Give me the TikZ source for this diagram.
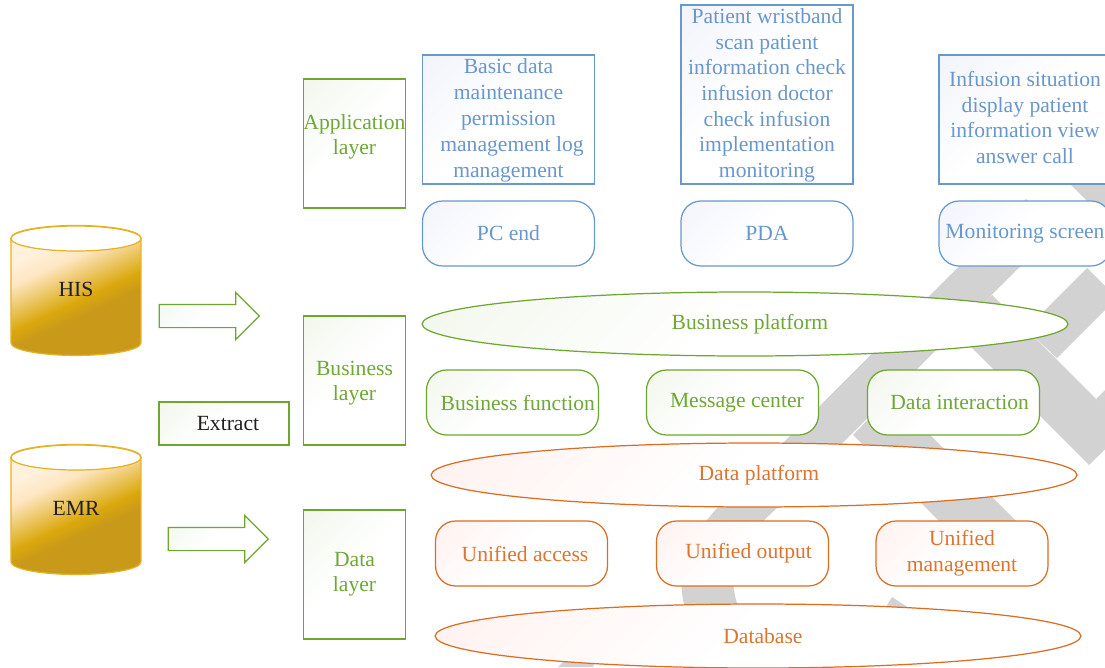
\documentclass[tikz,border=0pt]{standalone}
\usepackage{fontspec}
\setmainfont{Liberation Serif}
\usepackage{xcolor}
\usepackage{tikz}
\usetikzlibrary{shapes,shapes.geometric,shapes.arrows}
\usetikzlibrary{calc,positioning}
\definecolor{wmgrey}{HTML}{D2D2D2}
\definecolor{greenln}{HTML}{6DA72F}
\definecolor{blueln}{HTML}{6699CC}
\definecolor{orangeln}{HTML}{DB6D20}
\definecolor{greentx}{HTML}{6FA836}
\definecolor{bluetx}{HTML}{6A97CB}
\definecolor{orangetx}{HTML}{DD7530}
\definecolor{greentint}{HTML}{F3F8EE}
\definecolor{bluetint}{HTML}{F3F5FC}
\definecolor{orangetint}{HTML}{FFF3F1}
\definecolor{goldln}{HTML}{E6B225}
\definecolor{cream}{HTML}{FFF1DC}
\definecolor{creamb}{HTML}{FEE6C2}
\definecolor{goldb}{HTML}{DAA80C}
\definecolor{goldc}{HTML}{C9991A}
\definecolor{inkc}{HTML}{231F20}
\pgfdeclarehorizontalshading{goldbody}{100bp}{color(0bp)=(cream); color(30bp)=(cream); color(38bp)=(creamb); color(54bp)=(goldb); color(60bp)=(goldc); color(100bp)=(goldc)}
\pgfdeclarehorizontalshading{tintgreen}{100bp}{color(0bp)=(greentint); color(18bp)=(greentint); color(48bp)=(white); color(100bp)=(white)}
\pgfdeclarehorizontalshading{tintblue}{100bp}{color(0bp)=(bluetint); color(18bp)=(bluetint); color(48bp)=(white); color(100bp)=(white)}
\pgfdeclarehorizontalshading{tintorange}{100bp}{color(0bp)=(orangetint); color(18bp)=(orangetint); color(48bp)=(white); color(100bp)=(white)}
\tikzset{
  every node/.style={font=\fontsize{12.3}{14.6}\selectfont, inner sep=0pt, align=center},
  tinted/.style={draw=#1ln, text=#1tx, line width=.7pt, shading=tint#1, shading angle=-45},
  layerbox/.style={rectangle, tinted=green, font=\fontsize{12.3}{14.3}\selectfont, minimum width=2.04cm, minimum height=2.58cm},
  listbox/.style={rectangle, tinted=blue, minimum width=3.44cm},
  endnode/.style={rectangle, rounded corners=.4cm, tinted=#1, minimum width=3.44cm, minimum height=1.3cm},
  platform/.style={ellipse, tinted=#1, minimum width=12.92cm, minimum height=1.28cm},
  store/.style={cylinder, shape border rotate=90, aspect=.5, draw=goldln, line width=.7pt, shading=goldbody, shading angle=-65, text=inkc, text width=1cm, minimum width=2.6cm, minimum height=2.6cm},
  lid/.style={draw=goldln, line width=.7pt, fill=white},
  pointer/.style={single arrow, tinted=green, inner xsep=0pt, inner ysep=.22cm, minimum width=.92cm, minimum height=2cm, single arrow head extend=.24cm, single arrow tip angle=90}
}
\begin{document}
\begin{tikzpicture}[x=.02cm,y=-.02cm]
	\clip (0,0) rectangle (1105,667);
	\fill[white] (0,0) rectangle (1105,667);
	\fill[wmgrey] (1026,199) -- (1057,230) -- (777,508) .. controls (742,540) and (722,565) .. (740,612) -- (686,612) .. controls (672,565) and (690,530) .. (745,481) -- cycle;
	\fill[wmgrey] (853,435) -- (891,396) -- (1016,521) -- (942,524) -- cycle;
	\fill[wmgrey] (992,295) -- (1126,429) -- (1089,465) -- (955,331) -- cycle;
	\fill[wmgrey] (1096,399) -- (1130,365) -- (1160,394) -- (1125,429) -- cycle;
	\fill[wmgrey] (1026,329) -- (1087,268) -- (1117,298) -- (1057,358) -- cycle;
	\fill[wmgrey] (1070,184) -- (1105,219) -- (1105,170) -- (1070,170) -- cycle;
	\fill[wmgrey] (892,597) -- (915,612) -- (878,620) -- cycle;
	\fill[wmgrey] (558,667) -- (575,650) -- (600,650) -- (593,667) -- cycle;
	\node[store] (his) at (76,297) {\raisebox{4.3pt}[\height][\depth]{HIS}};
	\draw[lid] ($(his.center)+(0,-58.5)$) ellipse [x radius=65,y radius=12.5];
	\node[store] (emr) at (76,516) {\raisebox{4.3pt}[\height][\depth]{EMR}};
	\draw[lid] ($(emr.center)+(0,-58.5)$) ellipse [x radius=65,y radius=12.5];
	\node[pointer] (hisarrow) at (203.5,316) {};
	\node[pointer] (emrarrow) at (212.5,539) {};
	\node[rectangle, tinted=green, text=inkc, minimum width=2.6cm, minimum height=.86cm] (extract) at (224,423.5) {\hspace*{4.5pt}Extract};
	\node[layerbox] (applayer) at (354.5,143.5) {Application\\layer\rule[-10pt]{0pt}{10pt}};
	\node[layerbox] (bizlayer) at (354.5,380.5) {\rule{0pt}{11.5pt}Business\\layer};
	\node[layerbox] (datalayer) at (354.5,574.5) {Data\\layer};
	\node[listbox, minimum height=2.58cm, font=\fontsize{12.3}{14.8}\selectfont] (pclist) at (508.5,119.5) {\rule{0pt}{9.5pt}Basic data\\maintenance\\permission\\\hspace*{4pt}management log\\management};
	\node[listbox, minimum height=3.58cm] (pdalist) at (767,94.5) {\rule{0pt}{9.5pt}Patient wristband\\scan patient\\information check\\infusion doctor\\check infusion\\implementation\\monitoring};
	\node[listbox, minimum height=2.58cm] (screenlist) at (1025,119.5) {Infusion situation\\display patient\\information view\\answer call\rule[-2.3pt]{0pt}{2.3pt}};
	\node[endnode=blue] (pcend) at (508.5,233.5) {PC end};
	\node[endnode=blue] (pda) at (767,233.5) {PDA};
	\node[endnode=blue] (screen) at (1025,233.5) {Monitoring screen};
	\node[platform=green] (bizplat) at (745,324) {\hspace*{5.6pt}Business platform};
	\node[endnode=green] (bizfunc) at (512.5,402.5) {\hspace*{6pt}Business function};
	\node[endnode=green] (msgcenter) at (732.5,402.5) {\hspace*{5pt}Message center};
	\node[endnode=green] (interact) at (953.5,402.5) {\hspace*{7pt}Data interaction};
	\node[platform=orange] (dataplat) at (754,475) {\hspace*{5.6pt}Data platform};
	\node[endnode=orange] (access) at (521.5,553.5) {\hspace*{4pt}Unified access};
	\node[endnode=orange] (output) at (742.5,553.5) {\hspace*{7pt}Unified output};
	\node[endnode=orange] (manage) at (962,553.5) {Unified\\management};
	\node[platform=orange] (database) at (758,636) {\hspace*{5.6pt}Database};
\end{tikzpicture}
\end{document}
